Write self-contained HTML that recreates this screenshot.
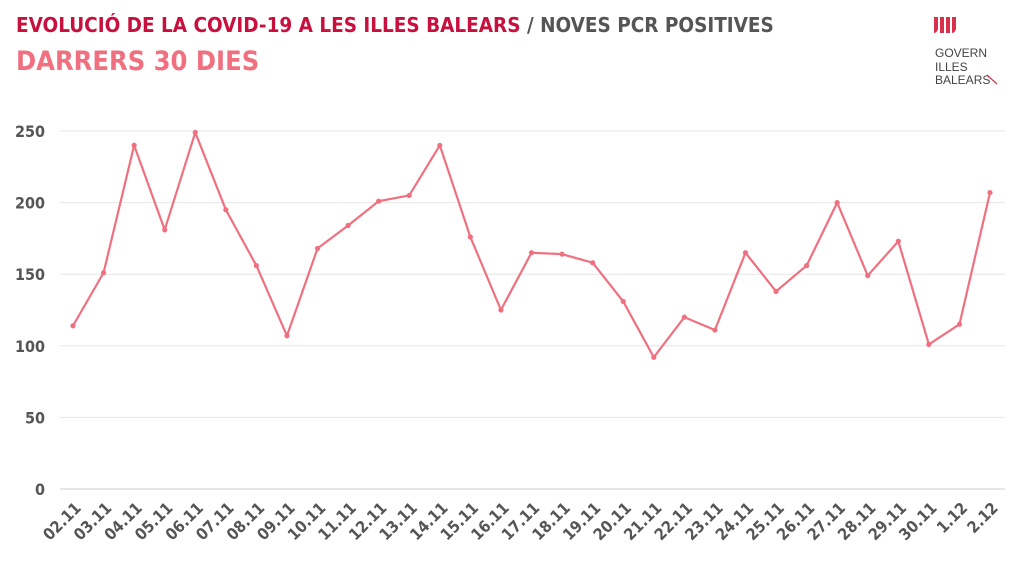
<!DOCTYPE html>
<html><head><meta charset="utf-8"><style>
body{margin:0;background:#fff;width:1024px;height:576px;overflow:hidden;font-family:"DejaVu Sans Condensed","Liberation Sans",sans-serif}
svg{position:absolute;left:0;top:0}
</style></head><body>
<svg width="1024" height="576">
<text x="16" y="32" font-size="20.5" font-weight="bold" fill="#c8103e">EVOLUCIÓ DE LA COVID-19 A LES ILLES BALEARS <tspan fill="#555">/ NOVES PCR POSITIVES</tspan></text>
<text x="16" y="70" font-size="27" font-weight="bold" fill="#f07080">DARRERS 30 DIES</text>
<g>
<path d="M934 17h4v11c0 3-2 5-4 5z M940 17h4v16h-4z M946 17h4v16h-4z M952 17h4v11c0 3-2 5-4 5z" fill="#d9304e"/>
<text x="935" y="57" font-size="12" fill="#444" font-family="Liberation Sans,sans-serif">GOVERN</text>
<text x="935" y="71" font-size="12" fill="#444" font-family="Liberation Sans,sans-serif">ILLES</text>
<text x="935" y="84" font-size="12" fill="#444" font-family="Liberation Sans,sans-serif">BALEARS</text>
<line x1="987" y1="75" x2="997" y2="84" stroke="#d9304e" stroke-width="1.2"/>
</g>
<g id="grid"></g><g id="xl"></g><g id="line"></g>
</svg>
<script>
const categories=["02.11","03.11","04.11","05.11","06.11","07.11","08.11","09.11","10.11","11.11","12.11","13.11","14.11","15.11","16.11","17.11","18.11","19.11","20.11","21.11","22.11","23.11","24.11","25.11","26.11","27.11","28.11","29.11","30.11","1.12","2.12"];
const values=[114,151,240,181,249,195,156,107,168,184,201,205,240,176,125,165,164,158,131,92,120,111,165,138,156,200,149,173,101,115,207];
const yTicks=[0,50,100,150,200,250];
const NS="http://www.w3.org/2000/svg";
function y(v){return 489-v*(358/250);}
function x(i){return 73+i*(917/(categories.length-1));}
function mk(t,a,p){const e=document.createElementNS(NS,t);for(const k in a)e.setAttribute(k,a[k]);p.appendChild(e);return e;}
const g=document.getElementById('grid');
yTicks.forEach(t=>{
 const l=mk('line',{x1:60,x2:1005,y1:y(t),y2:y(t),stroke:t==0?'#ccc':'#e6e6e6','stroke-width':1},g);
 
 
 const tx=mk('text',{x:45,y:y(t)+6,'text-anchor':'end','font-size':16,'font-weight':'bold',fill:'#555'},g);
 tx.textContent=t;
 
 
});
const xl=document.getElementById('xl');
categories.forEach((c,i)=>{
 const tx=mk('text',{transform:`translate(${x(i)+9},${509}) rotate(-45)`,'text-anchor':'end','font-size':16,'font-weight':'bold',fill:'#555'},xl);
 tx.textContent=c;
 
 
});
const lg=document.getElementById('line');
const p=mk('polyline',{points:values.map((v,i)=>x(i)+','+y(v)).join(' '),fill:'none',stroke:'#f07080','stroke-width':2.2},lg);


values.forEach((v,i)=>{
 const c=mk('circle',{cx:x(i),cy:y(v),r:2.6,fill:'#f07080'},lg);
 
 
});
</script>
</body></html>
